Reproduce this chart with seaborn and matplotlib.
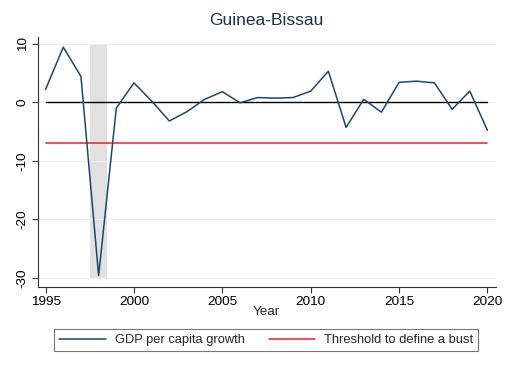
import pandas as pd
import seaborn as sns
import matplotlib.pyplot as plt

# GDP per capita growth, Guinea-Bissau
years = list(range(1995, 2021))
growth = [2.2, 9.4, 4.4, -29.6, -1.0, 3.3, 0.2, -3.2, -1.6, 0.5, 1.8, -0.1, 0.8,
          0.7, 0.8, 1.9, 5.3, -4.3, 0.5, -1.7, 3.4, 3.6, 3.3, -1.2, 1.9, -4.8]
threshold = -6.9
bust_start, bust_end = 1997.5, 1998.5
yticks = [10, 0, -10, -20, -30]
xticks = [1995, 2000, 2005, 2010, 2015, 2020]

df = pd.DataFrame({"Year": years, "growth": growth})

sns.set_style("white")
plt.rcParams['font.family'] = ['Liberation Sans', 'DejaVu Sans']

navy = "#1a476f"
fig = plt.figure(figsize=(5.09, 3.70), dpi=100)
ax = fig.add_axes([0.074, 0.225, 0.90, 0.676])

# recession shading
ax.fill_between([bust_start, bust_end], -30, 10, color="#e1e1e1", linewidth=0, zorder=0)

# grid lines at y ticks
for t in yticks:
    ax.axhline(t, color="#eeeeee", linewidth=0.8, zorder=0.5)

sns.lineplot(data=df, x="Year", y="growth", color=navy, linewidth=1.1, ax=ax,
             label="GDP per capita growth", zorder=3)
ax.plot([years[0], years[-1]], [0, 0], color="black", linewidth=1.0, zorder=2)
ax.plot([years[0], years[-1]], [threshold, threshold], color="#e8212b",
        linewidth=1.1, zorder=2, label="Threshold to define a bust")

ax.set_xlim(1994.55, 2020.47)
ax.set_ylim(-31.5, 11.2)
ax.set_xticks(xticks)
ax.set_yticks(yticks)
ax.set_yticklabels([str(t) for t in yticks], rotation=90, va="center")
ax.tick_params(axis="both", direction="out", length=4, width=0.8, colors="#333333",
               labelsize=9.7, labelcolor="black", left=True, bottom=True, pad=2.5)
ax.set_xlabel("Year", fontsize=9.7, labelpad=-1)
ax.set_ylabel("")
for s in ["top", "right"]:
    ax.spines[s].set_visible(False)
for s in ["left", "bottom"]:
    ax.spines[s].set_color("#333333")
    ax.spines[s].set_linewidth(0.8)

fig.suptitle("Guinea-Bissau", x=0.524, y=0.965, fontsize=12.5, color="#1e2f55")

handles, labels = ax.get_legend_handles_labels()
ax.get_legend().remove()
leg = fig.legend(handles, labels, ncol=2, loc="center", bbox_to_anchor=(0.523, 0.081),
                 frameon=True, fancybox=False, fontsize=9.3, handlelength=3.6,
                 handletextpad=0.7, columnspacing=1.85, borderpad=0.4,
                 borderaxespad=0)
leg.get_frame().set_edgecolor("#555555")
leg.get_frame().set_linewidth(0.8)

fig.savefig("out.png", dpi=100)
